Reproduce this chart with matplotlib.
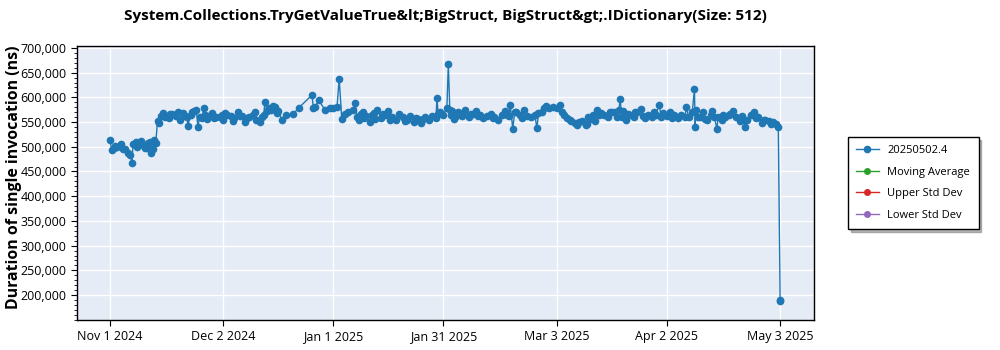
import pandas as pd
import matplotlib.pyplot as plt
import matplotlib.ticker as mticker
import matplotlib.dates as mdates

plt.rcParams['font.family'] = ['Open Sans', 'DejaVu Sans']

# run offsets in days from Nov 1 2024, and duration in ns
days = [
    0, 0.5, 1, 1.5, 2, 3, 3.5, 4, 5, 5.5, 6, 6.3, 7, 7.5, 8, 8.5, 9, 9.5, 10, 10.5,
    11, 11.3, 11.7, 12, 12.5, 13, 13.5, 14, 14.5, 15, 16, 16.5, 17, 18, 18.5, 19, 20, 20.5,
    21, 21.3, 22, 22.5, 23, 23.6, 24, 24.5, 25, 25.7, 26, 26.5, 27, 28, 28.5, 29, 30,
    30.5, 31, 31.5, 32, 33, 33.5, 34, 35, 35.5, 36, 37, 37.5, 38, 39, 39.5, 40, 41, 41.5,
    42, 42.3, 43, 43.5, 44, 44.5, 45, 45.5, 46, 47, 48, 50, 51.6, 55.2, 55.5, 56, 57,
    58.7, 60, 61,
    62, 62.6, 63.3, 64.3, 65, 66.3, 67, 67.5, 68, 68.5, 69, 69.5, 70, 71, 71.5, 72, 72.5,
    73, 74, 74.5, 75, 76, 76.5, 77, 78, 79, 80, 80.5, 81, 82, 83, 83.5, 84, 85, 85.5, 86,
    87, 88, 89, 89.3, 89.6, 90, 91,
    92, 92.4, 92.8, 93, 93.5, 94, 94.5, 95, 96, 96.5, 97, 98, 98.5, 99, 100, 100.5, 101,
    102, 103, 104, 104.5, 105, 106, 107, 108, 108.5, 109, 109.3, 110, 110.5, 111, 112,
    112.5, 113, 114, 115, 116, 116.6, 117, 118, 118.5, 119, 120, 121,
    122, 123, 123.5, 124, 124.8, 125.5, 126, 127, 127.5, 128, 129, 130, 130.2, 130.6, 131,
    132, 132.5, 133, 133.5, 134, 135, 136, 136.5, 137, 138, 138.5, 139, 139.3, 139.8, 140,
    141, 141.5, 142, 143, 143.5, 144, 145, 145.5, 146, 147, 148, 148.5, 149, 150, 150.5, 151,
    152, 153, 153.5, 154, 155, 156, 157, 157.4, 158, 159, 159.6, 159.8, 160, 160.5, 161,
    162, 162.5, 163, 164, 164.5, 165, 165.8, 166, 167, 167.5, 168, 169, 169.4, 170, 171,
    172, 172.5, 173, 173.5, 174, 175, 176, 176.5, 177, 178, 178.5, 179, 180, 180.5, 181,
    182, 182.5, 183, 183.1,
]
durations = [
    513000, 493000, 497000, 502000, 500000, 505000, 496000, 495000, 488000, 484000, 467000, 505000, 510000, 500000, 507000, 512000, 503000, 497000, 498000, 508000,
    510000, 488000, 496000, 513000, 508000, 553000, 548000, 563000, 568000, 560000, 558000, 566000, 566000, 562000, 570000, 555000, 568000, 562000,
    560000, 543000, 565000, 571000, 572000, 574000, 540000, 560000, 558000, 578000, 565000, 556000, 562000, 568000, 558000, 560000, 560000,
    565000, 555000, 568000, 565000, 562000, 552000, 558000, 570000, 562000, 562000, 551000, 558000, 560000, 565000, 570000, 555000, 550000, 560000,
    565000, 590000, 572000, 578000, 575000, 583000, 581000, 568000, 572000, 554000, 564000, 566000, 579000, 605000, 579000, 580000, 594000,
    575000, 578000, 578000,
    580000, 637000, 556000, 566000, 570000, 575000, 588000, 560000, 555000, 566000, 570000, 558000, 562000, 550000, 565000, 568000, 556000,
    575000, 558000, 566000, 565000, 572000, 555000, 560000, 555000, 566000, 560000, 552000, 555000, 563000, 550000, 558000, 557000, 548000, 556000, 560000,
    555000, 562000, 558000, 598000, 567000, 570000, 565000,
    578000, 667000, 575000, 565000, 572000, 556000, 563000, 570000, 562000, 568000, 575000, 560000, 566000, 567000, 572000, 562000, 565000,
    558000, 563000, 566000, 558000, 560000, 555000, 565000, 572000, 565000, 562000, 585000, 536000, 570000, 570000, 565000,
    558000, 575000, 562000, 560000, 565000, 537000, 568000, 570000, 578000, 583000, 578000, 580000,
    578000, 584000, 570000, 565000, 558000, 555000, 552000, 548000, 545000, 550000, 552000, 545000, 546000, 561000, 556000,
    565000, 552000, 575000, 565000, 568000, 565000, 560000, 570000, 570000, 570000, 560000, 575000, 596000, 560000, 572000,
    555000, 566000, 565000, 560000, 570000, 570000, 577000, 562000, 558000, 565000, 560000, 570000, 565000, 585000, 560000, 568000,
    562000, 570000, 558000, 565000, 558000, 565000, 560000, 581000, 560000, 570000, 616000, 541000, 575000, 560000, 560000,
    570000, 556000, 555000, 565000, 572000, 560000, 535000, 560000, 555000, 565000, 560000, 565000, 566000, 572000, 560000,
    552000, 562000, 555000, 540000, 555000, 565000, 570000, 558000, 560000, 548000, 555000, 555000, 552000, 547000, 550000,
    547000, 540000, 189000, 188000,
]

start = pd.Timestamp('2024-11-01')
run_dates = start + pd.to_timedelta(days, unit='D')

tick_dates = pd.to_datetime(['2024-11-01', '2024-12-02', '2025-01-01', '2025-01-31',
                             '2025-03-03', '2025-04-02', '2025-05-03'])
tick_labels = ['Nov 1 2024', 'Dec 2 2024', 'Jan 1 2025', 'Jan 31 2025',
               'Mar 3 2025', 'Apr 2 2025', 'May 3 2025']

series_names = ['20250502.4', 'Moving Average', 'Upper Std Dev', 'Lower Std Dev']
series_colors = ['#1f77b4', '#2ca02c', '#d62728', '#9467bd']

fig = plt.figure(figsize=(10, 3.5), dpi=100)
ax = fig.add_axes([0.077, 0.0857, 0.737, 0.783])
ax.set_facecolor('#e5ecf6')

ax.plot(run_dates, durations, color=series_colors[0], lw=1, marker='o', ms=4.5,
        label=series_names[0])
for name, col in zip(series_names[1:], series_colors[1:]):
    ax.plot([], [], color=col, lw=1, marker='o', ms=4, label=name)

ax.set_xlim(pd.Timestamp('2024-10-23'), pd.Timestamp('2025-05-12 06:00'))
ax.set_ylim(149500, 704000)

ax.set_xticks(mdates.date2num(tick_dates))
ax.set_xticklabels(tick_labels)
ax.yaxis.set_minor_locator(mticker.MultipleLocator(10000))
ax.yaxis.set_major_formatter(mticker.StrMethodFormatter('{x:,.0f}'))
ax.set_yticks(range(200000, 700001, 50000))
ax.tick_params(axis='both', labelsize=9, length=4, color='black')
ax.tick_params(axis='y', which='minor', length=2)

ax.grid(True, color='white', lw=1)
ax.set_axisbelow(True)
for s in ax.spines.values():
    s.set_color('black')
    s.set_linewidth(1)

ax.set_ylabel('Duration of single invocation (ns)', fontsize=11.4, fontweight='bold')
ax.yaxis.set_label_coords(-0.0746, 0.52)
fig.suptitle('System.Collections.TryGetValueTrue&lt;BigStruct, BigStruct&gt;.IDictionary(Size: 512)',
             x=0.445, y=0.975, fontsize=11, fontweight='bold')

leg = ax.legend(loc='upper left', bbox_to_anchor=(0.848, 0.609), bbox_transform=fig.transFigure,
                borderaxespad=0, fontsize=8, fancybox=False,
                shadow={'ox': 2, 'oy': -2, 'color': '#707070'}, framealpha=1,
                edgecolor='black', handlelength=2.0, labelspacing=0.95, borderpad=0.75)
leg.get_frame().set_linewidth(1)

plt.savefig('out.png', dpi=100)
